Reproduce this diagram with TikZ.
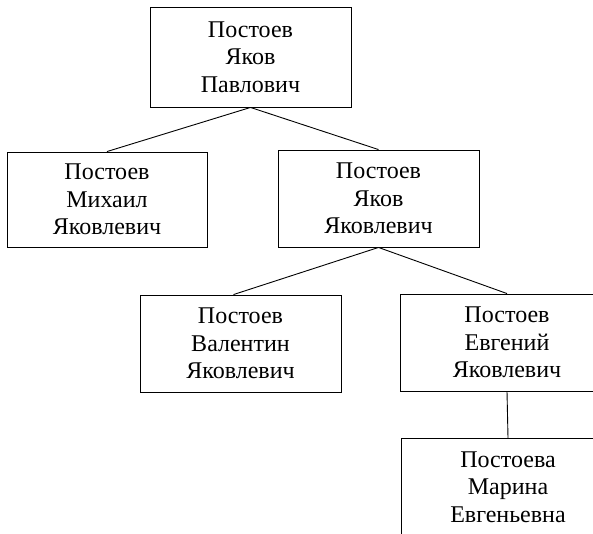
\documentclass[tikz,border=0pt]{standalone}
\usepackage{fontspec}
\setmainfont{Liberation Serif}
\begin{document}
\begin{tikzpicture}[x=1pt,y=-1pt,
  person/.style={draw=black,line width=0.9pt,rectangle,align=center,
    font=\fontsize{24}{27.5}\selectfont,inner sep=0pt,text depth=0pt},
  link/.style={draw=black,line width=0.9pt}]
\useasboundingbox[fill=white] (0,0) rectangle (593,533);
\clip (0,0) rectangle (593,533);
\node[person,minimum width=201pt,minimum height=100pt] (p1) at (250.5,57) {Постоев\\Яков\\Павлович};
\node[person,minimum width=200pt,minimum height=95pt] (p2) at (107,199.5) {Постоев\\Михаил\\Яковлевич};
\node[person,minimum width=201pt,minimum height=97pt] (p3) at (378.5,198.5) {Постоев\\Яков\\Яковлевич};
\node[person,minimum width=201pt,minimum height=97pt] (p4) at (240.5,343.5) {Постоев\\Валентин\\Яковлевич};
\node[person,minimum width=214pt,minimum height=97pt] (p5) at (507,342.5) {Постоев\\Евгений\\Яковлевич};
\node[person,minimum width=214pt,minimum height=97pt] (p6) at (508,487) {Постоева\\Марина\\Евгеньевна};
\draw[link] (p1.south) -- (p2.north);
\draw[link] (p1.south) -- (p3.north);
\draw[link] (p3.south) -- ([xshift=-7pt]p4.north);
\draw[link] (p3.south) -- (p5.north);
\draw[link] (p5.south) -- (p6.north);
\end{tikzpicture}
\end{document}
